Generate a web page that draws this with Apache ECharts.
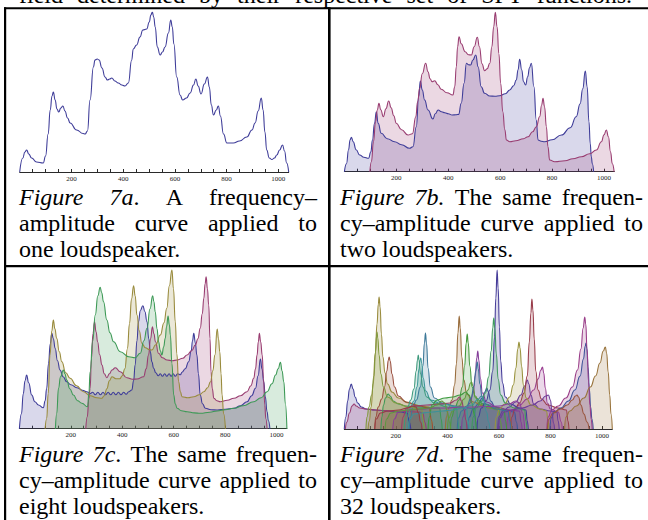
<!DOCTYPE html>
<html>
<head>
<meta charset="utf-8">
<script src="https://cdn.jsdelivr.net/npm/echarts@6/dist/echarts.min.js"></script>
<style>
  html, body { margin: 0; padding: 0; background: #fff; }
  #chart { width: 648px; height: 520px; }
</style>
</head>
<body>
<div id="chart"></div>
<script>
// ---- frequency axis labels ----
const tickLabels = [200, 400, 600, 800, 1000];

// ---- Figure 7a: one loudspeaker (frequency, amplitude) ----
const fig7a = [[0,0],[12,14],[20,20],[27,22],[35,18],[46,14],[65,10],[91,9],[100,16],[110,38],[118,62],[125,76],[130,80],[137,72],[144,63],[151,60],[159,64],[167,66],[175,61],[185,54],[195,49],[220,42],[245,38.5],[253,38],[262,41],[272,72],[285,105],[291,112],[300,113],[307,112],[318,104],[330,95],[339,92],[348,93],[356,94],[368,91],[381,89],[395,87],[407,86],[420,89],[433,112],[439,123],[452,127],[465,135],[476,142],[491,143],[501,150],[507,157],[513,160],[518,155],[524,145],[532,125],[543,117],[552,120],[562,125],[575,139],[584,152],[590,145],[596,128],[607,95],[620,77],[630,72],[645,74],[659,79],[672,87],[681,93],[690,86],[701,78],[714,88],[726,95],[733,85],[741,67],[749,57],[760,62],[768,66],[776,56],[788,38],[801,29],[826,29],[850,31],[878,35],[898,42],[910,49],[922,61],[934,74],[941,62],[948,40],[955,22],[965,14],[975,12.5],[985,14],[994,17],[1005,22],[1016,27],[1024,21],[1032,9],[1040,0]];

// ---- Figure 7b: two loudspeakers ----
const fig7bBlue = [[0,0],[8,8],[16,22],[22,32],[27,34.4],[34,30],[45,22],[59,16.7],[75,14.5],[93,13.4],[102,20],[108,31.7],[116,48.4],[123,60],[130,48.4],[142,38.4],[165,33],[193,30],[220,27],[251,23.4],[264,25],[277,45],[286,75],[292.5,90.7],[300,81.7],[309,71.7],[322,61.7],[341,52.7],[350,58],[361,61.7],[374,60],[387,59],[400,58],[415,56.7],[430,57],[440,57.3],[450,68.4],[461,88.4],[470,108.4],[478,107],[486,106.7],[495,111.7],[506,116.7],[515,105],[527,85],[540,78.4],[560,75.7],[580,75.5],[598,76],[620,78],[637,81.7],[652,86],[662,91.7],[669,102],[675,112.4],[683,102],[690,90],[698,86.7],[706,95],[713,104],[720,108.4],[730,85],[739,51.7],[746,31.7],[758,30.5],[771,30],[800,32],[836,36.7],[870,44],[893,55],[908,68],[918,83],[928,100.7],[935,85],[942,50],[947,28],[951,15],[955,8],[960,0]];
const fig7bRed = [[98,0],[104,10],[112,30],[120,50],[127,62],[133,68.4],[140,62],[150,55],[160,63],[170.6,70.7],[180,64],[190,56],[200,48.4],[220,42],[245,36.7],[262,38],[275,55],[282,70],[290,83.4],[300,98],[313,108.4],[322,100],[330,93],[337.5,90],[348,91],[360,87],[373,82.4],[395,79],[418,76.7],[425,85],[431,105],[436,125],[441.5,135],[450,128],[465,120],[478,117],[489,116.7],[500,125],[512,134.4],[520,125],[530,108],[540,101],[550,103],[560,108.4],[568,125],[575,145],[581.4,159.4],[588,145],[595,118],[602,88.4],[610,60],[618,42],[624,31.7],[637,30],[660,31],[690,33],[707.5,35],[725,40],[739.5,45],[752,55],[760,67],[765,73.4],[771,65],[778,45],[784,25],[790.6,11.7],[810,10],[850,11],[880,13],[913,15],[945,18],[970.5,21.7],[990,30],[1000,37],[1009,41.7],[1017,35],[1025,20],[1032,8],[1039,0]];

// ---- Figure 7c: eight loudspeakers ----
const fig7cBlue = [[0,0],[8,15],[15,35],[22,48],[28,53.7],[36,46],[48,33.7],[60,27],[74,23.7],[93,21],[100,28],[106,40.4],[113,65],[120,85],[126,95.4],[132,90],[139,80.4],[148,68],[158,58.7],[170,52],[184,47],[200,44],[223,41],[245,38.5],[262,37],[275,35],[285,36.5],[295,34],[305,36.5],[315,34],[325,36.5],[335,34],[345,36.5],[355,34],[365,36.5],[375,34],[385,36.5],[395,34],[405,36.5],[415,34.5],[425,37],[437,38.7],[444,48],[450,63.7],[457,88],[463,107],[470,118],[480,123],[488,117],[496,107],[503,90],[509,77],[515,67],[522,60.4],[530,56],[540,53],[548,55],[556,52.5],[565,55],[573,52.5],[582,55],[590,52.5],[598,55],[606,52.5],[615,55],[626,54],[632,56.4],[645,60],[658,67],[668,78],[673,88],[678,95.4],[684,86],[690,73.7],[696,55],[703,33.7],[712,25],[723,20.4],[745,19],[769,18.7],[800,19.5],[834,20.4],[860,23],[885,27],[903,33],[918,40.4],[928,53],[937,69.7],[943,60],[950,47],[956,32],[963,17],[968,8],[974,0]];
const fig7cRed = [[258,0],[264,12],[270,30],[275,40.4],[280,70],[286,95],[292,107],[298,97],[304,87],[312,74],[321,63.7],[330,55],[340,51],[350,55],[360,58.7],[373,61],[392,57],[418,51],[440,49.5],[457,49.7],[483,52],[493,60],[502,73.7],[510,90],[517,102],[523,95],[529,87],[541,75.4],[556,71],[574,68.7],[595,68],[613,68.7],[635,70.5],[652,73.7],[670,78],[684,83.7],[694,90],[703,100.4],[711,115],[717,130.4],[722,145],[726,152],[731,140],[736,123.7],[741,90],[745,57],[750,40],[756,30.4],[768,28],[781,27],[808,28.5],[834,30.4],[860,33],[885,37],[900,43],[911,50.4],[918,60],[924,73.7],[929,87],[933,95.4],[938,87],[944,73.7],[949,50],[954,23.7],[958,10],[963,0]];
const fig7cGold = [[100,0],[106,10],[112,35],[119,73.7],[126,98],[132,108.7],[138,100],[145,90.4],[155,77],[165,67],[180,56],[197,50.4],[222,43],[249,37],[275,33],[301,31],[320,30.4],[330,33],[340,40],[350,48],[360,52],[375,50],[390,50],[400,53],[410,60],[420,80],[428,105],[436,130],[444,143],[450,133],[457,113.7],[466,98],[476,85.4],[490,81],[505,79],[515,78.7],[530,84],[548,93.7],[562,106],[573,120.4],[583,143],[593,158.7],[599,140],[606,107],[612,75],[619,47],[626,37],[632,32],[655,31],[678,32],[700,34],[717,37],[732,41],[743,47],[752,58],[760,73.7],[769,99.7],[774,90],[779,77],[784,55],[788,33.7],[794,15],[801,0]];
const fig7cGreen = [[140,0],[145,15],[152,40.4],[160,52],[171,58.7],[177,55],[184,48.7],[196,40],[210,33.7],[226,28],[243,25.4],[265,22],[270,35],[275,57],[285,88],[295,113.7],[305,133],[314,141.4],[320,136],[327,127],[340,108.7],[352,96],[366,87],[392,77],[425,72],[450,71],[470,75.4],[484,88],[496,100.4],[508,120],[518,133],[523,127],[528,117],[535,100],[541,87],[548,78],[554,73.7],[561,82],[567,90.4],[572,102],[578,112.7],[583,104],[587,93.7],[593,65],[600,33.7],[606,25],[613,20.4],[630,18],[652,17],[680,15.8],[704,15.4],[740,16.5],[769,17.7],[800,19],[834,20.4],[870,23],[911,27],[940,31],[963,37],[982,45],[996,53.7],[1006,60],[1015,66.4],[1021,58],[1028,47],[1034,25],[1040,0]];

// ---- Figure 7d: 32 loudspeakers ----
const spk01 = [[0,0],[6,12],[13,28],[20,40],[27,45],[34,40],[42,32],[52,26],[66,22],[85,20],[120,19],[170,18],[220,17],[245,16],[252,7],[258,0]];
const spk02 = [[4,0],[10,7],[20,16],[30,23],[38,25],[46,23],[60,21],[85,20],[120,19],[180,18],[240,17.5],[290,17],[305,16],[312,7],[318,0]];
const spk03 = [[92,0],[97,8],[104,22],[112,45],[120,75],[127,105],[132,125],[135,132],[139,122],[144,95],[150,72],[158,56],[168,45],[185,37],[210,31],[250,26],[300,23],[330,22],[337,10],[342,0]];
const spk04 = [[142,0],[146,12],[152,24],[160,31],[170,35],[178,33],[190,28],[210,25],[240,23],[290,22],[340,21],[370,21],[376,10],[380,0]];
const spk05 = [[480,0],[485,12],[500,20],[520,25],[535,31],[545,37],[553,41],[559,37],[568,28],[585,22],[620,19],[660,17],[668,7],[672,0]];
const spk06 = [[630,0],[635,12],[650,19],[680,24],[710,30],[735,39],[752,50],[763,59],[769,62],[774,56],[780,41],[788,26],[800,20],[830,17],[842,7],[846,0]];
const spk07 = [[392,0],[396,12],[405,21],[418,29],[428,44],[435,65],[441,96],[446,113],[450,101],[456,72],[464,49],[475,35],[500,27],[540,23],[600,20],[640,19],[646,8],[650,0]];
const spk08 = [[412,0],[417,12],[428,21],[445,29],[458,42],[467,63],[473,86],[477,95],[481,86],[487,63],[496,42],[510,31],[540,25],[580,22],[620,20],[626,8],[630,0]];
const spk09 = [[252,0],[257,12],[266,22],[280,29],[295,42],[305,63],[311,86],[315,96],[319,86],[325,61],[334,42],[350,31],[380,26],[430,23],[480,21],[505,20],[510,8],[514,0]];
const spk10 = [[455,0],[460,12],[472,20],[488,26],[500,36],[508,53],[514,71],[518,78],[522,69],[528,51],[536,36],[552,27],[590,22],[640,19],[680,18],[686,7],[690,0]];
const spk11 = [[118,0],[122,12],[132,22],[145,30],[156,42],[165,58],[171,69],[174,72],[178,68],[185,55],[195,42],[210,33],[240,27],[290,23],[330,21],[338,9],[343,0]];
const spk12 = [[400,0],[405,11],[420,18],[445,23],[465,30],[480,39],[490,46],[494,47],[499,43],[508,33],[525,25],[560,21],[600,19],[606,8],[610,0]];
const spk13 = [[242,0],[247,12],[256,21],[270,28],[282,42],[290,60],[294,69],[297,71],[300,66],[306,51],[316,38],[335,29],[380,25],[440,22],[475,21],[480,9],[484,0]];
const spk14 = [[595,0],[600,12],[615,18],[640,22],[665,27],[685,34],[700,43],[710,49],[716,45],[724,34],[735,25],[760,20],[800,18],[825,17],[830,8],[834,0]];
const spk15 = [[645,0],[650,12],[662,20],[680,26],[698,36],[710,53],[718,87],[724,116],[728,130],[732,119],[737,90],[743,58],[752,39],[765,30],[790,24],[830,21],[862,19],[868,8],[872,0]];
const spk16 = [[84,0],[88,12],[96,22],[106,34],[115,53],[121,77],[125,93],[127,97],[130,91],[135,74],[142,55],[152,42],[168,32],[200,26],[250,22],[300,20],[306,9],[310,0]];
const spk17 = [[232,0],[237,12],[246,22],[258,29],[270,40],[279,58],[284,69],[287,74],[290,69],[296,55],[305,42],[320,32],[350,26],[400,22],[436,21],[440,9],[444,0]];
const spk18 = [[515,0],[520,12],[532,21],[550,28],[565,39],[576,58],[583,92],[588,131],[593,159],[597,141],[602,102],[607,68],[614,46],[625,32],[645,25],[680,21],[705,19],[710,8],[714,0]];
const spk19 = [[222,0],[228,12],[240,21],[270,23],[320,24],[370,25],[410,26],[435,29],[447,32],[455,28],[465,19],[472,9],[476,0]];
const spk20 = [[585,0],[590,12],[602,20],[622,25],[642,32],[656,44],[666,61],[673,80],[678,87],[682,81],[688,63],[695,44],[706,31],[725,24],[760,20],[785,18],[790,8],[794,0]];
const spk21 = [[495,0],[500,12],[512,21],[530,27],[548,36],[560,52],[570,78],[576,101],[580,111],[584,101],[590,75],[597,50],[607,34],[625,26],[660,21],[700,19],[705,8],[709,0]];
const spk22 = [[798,0],[803,11],[815,17],[840,21],[870,28],[895,39],[915,53],[928,70],[935,83],[938,86],[941,81],[946,62],[951,40],[956,22],[961,10],[966,0]];
const spk23 = [[786,0],[791,12],[805,19],[830,23],[860,31],[885,42],[905,59],[918,80],[927,101],[933,112],[937,105],[942,80],[948,47],[953,24],[958,10],[962,0]];
const spk24 = [[855,0],[860,12],[875,18],[900,23],[930,31],[955,42],[975,53],[992,66],[1005,78],[1013,82],[1018,76],[1024,57],[1030,34],[1035,15],[1040,0]];
const spk25 = [[325,0],[330,12],[340,24],[360,29],[390,31],[420,32],[450,34],[472,37],[484,34],[495,26],[505,14],[512,0]];
const spk26 = [[438,0],[443,11],[455,18],[475,23],[492,31],[503,43],[510,58],[516,67],[520,60],[526,45],[535,32],[550,25],[590,20],[635,18],[642,8],[646,0]];
const spk27 = [[188,0],[194,10],[210,17],[250,19],[300,20],[350,21],[400,21],[450,22],[500,22],[550,22.5],[600,23],[640,25],[665,28],[680,26],[692,16],[700,0]];
const spk28 = [[788,0],[794,10],[810,16],[840,20],[865,24],[885,29],[897,33],[903,34],[909,32],[918,24],[930,15],[942,7],[950,0]];
const spk29 = [[158,0],[164,10],[180,16],[210,18],[250,19],[290,20],[330,21],[360,24],[378,28],[390,26],[400,17],[408,7],[413,0]];
const spk30 = [[248,0],[254,10],[270,15],[300,16],[340,17],[380,18],[420,19],[460,21],[495,24],[520,30],[532,33],[542,28],[552,17],[560,7],[565,0]];
const spk31 = [[598,0],[604,11],[620,17],[650,19],[690,21],[730,24],[760,28],[782,33],[792,34],[800,29],[806,17],[812,6],[816,0]];
const spk32 = [[118,0],[124,10],[140,16],[170,18],[210,19],[245,21],[265,23],[278,22],[288,16],[296,7],[302,0]];
const fig7d = [spk01, spk02, spk03, spk04, spk05, spk06, spk07, spk08, spk09, spk10, spk11, spk12, spk13, spk14, spk15, spk16,
               spk17, spk18, spk19, spk20, spk21, spk22, spk23, spk24, spk25, spk26, spk27, spk28, spk29, spk30, spk31, spk32];

// ---- caption text ('*' toggles italic) ----
const topLine = 'field determined by their respective set of SPT functions.';
const caption7a = ['*Figure* *7a*. A frequency–', 'amplitude curve applied to', 'one loudspeaker.'];
const caption7b = ['*Figure 7b.* The same frequen-', 'cy–amplitude curve applied to', 'two loudspeakers.'];
const caption7c = ['*Figure 7c*. The same frequen-', 'cy–amplitude curve applied to', 'eight loudspeakers.'];
const caption7d = ['*Figure 7d*. The same frequen-', 'cy–amplitude curve applied to', '32 loudspeakers.'];

// ---- styling helpers ----
function hsv(h, s, v) {
  const i = Math.floor(h * 6), f = h * 6 - i;
  const p = v * (1 - s), q = v * (1 - f * s), t = v * (1 - (1 - f) * s);
  const rgb = [[v, t, p], [q, v, p], [p, v, t], [p, q, v], [t, p, v], [v, p, q]][i % 6];
  return 'rgb(' + rgb.map(c => Math.round(c * 255)).join(',') + ')';
}
// golden-ratio hue sequence, muted
const palette = Array.from({ length: 32 }, (_, n) => hsv((0.67 + n * 0.2360679775) % 1, 0.6, 0.6));

const SERIF = '"Liberation Serif", "Times New Roman", serif';
const panels = [
  { left: 19.7, top: 12, width: 269, curves: [fig7a], filled: false },
  { left: 344.4, top: 11.7, width: 270, curves: [fig7bBlue, fig7bRed], filled: true },
  { left: 19.4, top: 268.7, width: 267.5, curves: [fig7cBlue, fig7cRed, fig7cGold, fig7cGreen], filled: true },
  { left: 344.3, top: 269, width: 268, curves: fig7d, filled: true }
];

const grid = [], xAxis = [], yAxis = [], series = [];
panels.forEach((p, i) => {
  grid.push({ left: p.left, top: p.top, width: p.width, height: 160 });
  xAxis.push({
    type: 'value', gridIndex: i, min: 0, max: 1040, interval: 50,
    axisLine: { show: true, onZero: false, lineStyle: { color: '#2a2a2a', width: 1 } },
    axisTick: { show: true, inside: true, length: 3, lineStyle: { color: '#2a2a2a', width: 1 } },
    axisLabel: {
      show: true, margin: 3, fontSize: 7, fontFamily: SERIF, color: '#222',
      showMinLabel: false, showMaxLabel: false,
      formatter: v => (tickLabels.indexOf(v) >= 0 ? String(v) : '')
    },
    splitLine: { show: false }
  });
  yAxis.push({ type: 'value', gridIndex: i, min: 0, max: 160, show: false });
  p.curves.forEach((data, k) => {
    const c = palette[k];
    const s = {
      type: 'line', xAxisIndex: i, yAxisIndex: i, data: data,
      smooth: 0.5, smoothMonotone: 'x', symbol: 'none', showSymbol: false,
      lineStyle: { color: c, width: 1.1 }, itemStyle: { color: c },
      silent: true, clip: true
    };
    if (p.filled) s.areaStyle = { color: c, opacity: 0.2 };
    series.push(s);
  });
});

// ---- text layout with justified lines ----
const CAP_SIZE = 24;
const measureCtx = document.createElement('canvas').getContext('2d');
function runFont(italic) { return (italic ? 'italic ' : '') + CAP_SIZE + 'px ' + SERIF; }
function runWidth(run) { measureCtx.font = runFont(run[1]); return measureCtx.measureText(run[0]).width; }
function parseWords(line) {
  let italic = false;
  return line.split(' ').map(w => {
    const runs = []; let buf = '';
    for (const ch of w) {
      if (ch === '*') { if (buf) runs.push([buf, italic]); buf = ''; italic = !italic; }
      else buf += ch;
    }
    if (buf) runs.push([buf, italic]);
    return runs;
  });
}
function layoutLine(line, x0, x1, baseline, justify) {
  const words = parseWords(line);
  const widths = words.map(w => w.reduce((s, r) => s + runWidth(r), 0));
  const total = widths.reduce((a, b) => a + b, 0);
  measureCtx.font = runFont(false);
  const space = measureCtx.measureText(' ').width;
  const gap = (justify && words.length > 1) ? (x1 - x0 - total) / (words.length - 1) : space;
  const els = [];
  let x = x0;
  words.forEach((w, i) => {
    let rx = x;
    w.forEach(r => {
      els.push({
        type: 'text', x: rx, y: baseline - 0.3375 * CAP_SIZE, silent: true,
        style: { text: r[0], font: runFont(r[1]), fill: '#000', textAlign: 'left', verticalAlign: 'middle', textVerticalAlign: 'middle' }
      });
      rx += runWidth(r);
    });
    x += widths[i] + gap;
  });
  return els;
}
function layoutCaption(lines, x0, x1, firstBaseline) {
  let els = [];
  lines.forEach((ln, i) => {
    els = els.concat(layoutLine(ln, x0, x1, firstBaseline + i * 26, i < lines.length - 1));
  });
  return els;
}

const graphics = [
  // table rules
  { type: 'rect', silent: true, shape: { x: 4, y: 7.3, width: 650, height: 2 }, style: { fill: '#000' } },
  { type: 'rect', silent: true, shape: { x: 4, y: 7.3, width: 2.2, height: 520 }, style: { fill: '#000' } },
  { type: 'rect', silent: true, shape: { x: 328, y: 7.3, width: 2.6, height: 520 }, style: { fill: '#000' } },
  { type: 'rect', silent: true, shape: { x: 4, y: 265.1, width: 650, height: 2.2 }, style: { fill: '#000' } }
]
  .concat(layoutLine(topLine, 19, 632, 3, true))
  .concat(layoutCaption(caption7a, 19, 317, 205.5))
  .concat(layoutCaption(caption7b, 340, 643, 205.5))
  .concat(layoutCaption(caption7c, 19, 317, 462.5))
  .concat(layoutCaption(caption7d, 340, 643, 462.5));

const chart = echarts.init(document.getElementById('chart'), null, { renderer: 'svg', width: 648, height: 520 });
chart.setOption({
  animation: false,
  backgroundColor: '#fff',
  grid: grid,
  xAxis: xAxis,
  yAxis: yAxis,
  series: series,
  graphic: { elements: graphics }
});
</script>
</body>
</html>
